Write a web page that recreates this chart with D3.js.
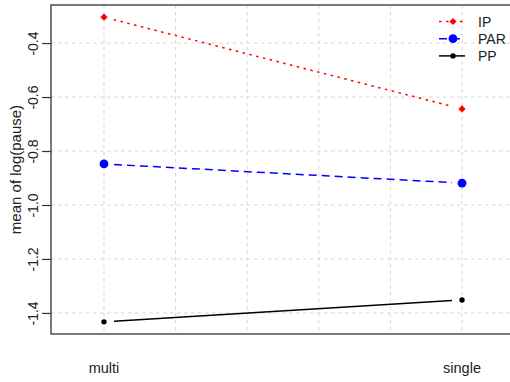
<!DOCTYPE html>
<html>
<head>
<meta charset="utf-8">
<script src="https://cdn.jsdelivr.net/npm/d3@7"></script>
<style>
  html, body { margin: 0; padding: 0; background: #fff; }
  svg { display: block; font-family: "Liberation Sans", Arial, sans-serif; }
</style>
</head>
<body>
<svg id="chart" width="510" height="382"></svg>
<script>
// Factor levels on the x axis
const levels = ["multi", "single"];
// Mean of log(pause) for each group, one value per level
const seriesNames = ["IP", "PAR", "PP"];
const ipValues = [-0.304, -0.644];
const parValues = [-0.848, -0.919];
const ppValues = [-1.433, -1.352];
const yTicks = [-0.4, -0.6, -0.8, -1.0, -1.2, -1.4];
const xGrid = [1, 1.2, 1.4, 1.6, 1.8, 2];

const series = [
  { name: seriesNames[0], values: ipValues, color: "#ff0000", dash: "2.5,4.5", marker: "diamond", size: 3.6 },
  { name: seriesNames[1], values: parValues, color: "#0000ff", dash: "8,5", marker: "circle", size: 4.4 },
  { name: seriesNames[2], values: ppValues, color: "#000000", dash: null, marker: "circle", size: 2.7 }
];

const svg = d3.select("#chart");
const plotLeft = 51, plotRight = 515, plotTop = 5, plotBottom = 334;

const x = d3.scaleLinear().domain([0.852, 2.148]).range([plotLeft, plotRight]);
const y = d3.scaleLinear().domain([-1.478, -0.259]).range([plotBottom, plotTop]);

// Grid
const grid = svg.append("g").attr("stroke", "#d6d6d6").attr("stroke-dasharray", "3.5,3.5").attr("stroke-width", 1);
grid.selectAll("line.v").data(xGrid).join("line").attr("class", "v")
  .attr("x1", d => x(d)).attr("x2", d => x(d)).attr("y1", plotTop).attr("y2", plotBottom);
grid.selectAll("line.h").data(yTicks).join("line").attr("class", "h")
  .attr("x1", plotLeft).attr("x2", plotRight).attr("y1", d => y(d)).attr("y2", d => y(d));

// Frame
svg.append("rect").attr("x", plotLeft).attr("y", plotTop)
  .attr("width", plotRight - plotLeft).attr("height", plotBottom - plotTop)
  .attr("fill", "none").attr("stroke", "#333").attr("stroke-width", 1.3);

// Y axis with rotated labels
const yAxis = d3.axisLeft(y).tickValues(yTicks).tickSize(9).tickFormat(d => d3.format(".1f")(d).replace("−", "-"));
const gy = svg.append("g").attr("transform", `translate(${plotLeft},0)`).call(yAxis);
gy.select(".domain").remove();
gy.selectAll(".tick line").attr("stroke", "#333").attr("stroke-width", 1.2);
gy.selectAll(".tick text")
  .attr("font-size", 14).attr("fill", "#222")
  .attr("font-family", "Liberation Sans, Arial, sans-serif")
  .attr("text-anchor", "middle")
  .attr("dy", null)
  .attr("x", null)
  .attr("transform", "translate(-13,0) rotate(-90)");

// X labels
svg.append("g").selectAll("text").data(levels).join("text")
  .attr("x", (d, i) => x(i + 1)).attr("y", 373)
  .attr("text-anchor", "middle").attr("font-size", 14.5).attr("fill", "#222")
  .text(d => d);

// Axis title
svg.append("text")
  .attr("transform", `translate(21,${(plotTop + plotBottom) / 2}) rotate(-90)`)
  .attr("text-anchor", "middle").attr("font-size", 15).attr("fill", "#222")
  .text("mean of log(pause)");

// Lines with gaps around points (type "b")
const gap = 10;
function drawMarker(g, s, cx, cy) {
  if (s.marker === "diamond") {
    const r = s.size;
    g.append("path")
      .attr("d", `M${cx},${cy - r}L${cx + r},${cy}L${cx},${cy + r}L${cx - r},${cy}Z`)
      .attr("fill", s.color);
  } else {
    g.append("circle").attr("cx", cx).attr("cy", cy).attr("r", s.size).attr("fill", s.color);
  }
}

const marks = svg.append("g");
series.forEach(s => {
  const pts = s.values.map((v, i) => [x(i + 1), y(v)]);
  for (let i = 0; i < pts.length - 1; i++) {
    const [x1, y1] = pts[i], [x2, y2] = pts[i + 1];
    const len = Math.hypot(x2 - x1, y2 - y1);
    const ux = (x2 - x1) / len, uy = (y2 - y1) / len;
    marks.append("line")
      .attr("x1", x1 + ux * gap).attr("y1", y1 + uy * gap)
      .attr("x2", x2 - ux * gap).attr("y2", y2 - uy * gap)
      .attr("stroke", s.color).attr("stroke-width", 1.5)
      .attr("stroke-dasharray", s.dash);
  }
  pts.forEach(p => drawMarker(marks, s, p[0], p[1]));
});

// Legend
const legend = svg.append("g");
series.forEach((s, i) => {
  const ly = 21.5 + i * 17.2;
  legend.append("line").attr("x1", 439).attr("x2", 465).attr("y1", ly).attr("y2", ly)
    .attr("stroke", s.color).attr("stroke-width", 1.5).attr("stroke-dasharray", s.dash);
  drawMarker(legend, s, 453, ly);
  legend.append("text").attr("x", 478).attr("y", ly).attr("dy", "0.36em")
    .attr("font-size", 14).attr("fill", "#222").text(s.name);
});
</script>
</body>
</html>
